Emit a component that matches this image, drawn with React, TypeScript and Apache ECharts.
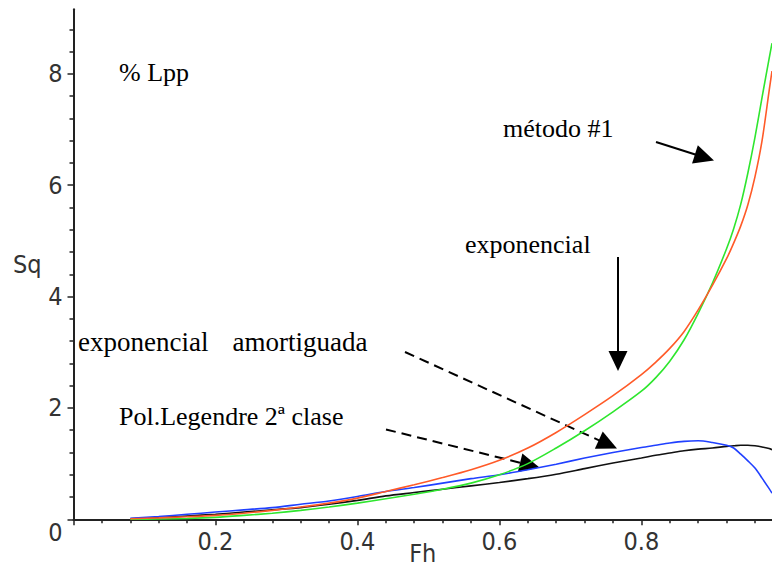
import React, { useEffect, useRef } from "react";
import * as echarts from "echarts";

// Froude number samples (Fh) shared by every curve
const fh = [
  0.08, 0.12, 0.16, 0.2, 0.24, 0.28, 0.32, 0.36, 0.4, 0.44, 0.48, 0.52, 0.56,
  0.6, 0.64, 0.68, 0.72, 0.76, 0.8, 0.82, 0.84, 0.86, 0.88, 0.9, 0.92, 0.93,
  0.94, 0.95, 0.96, 0.97, 0.98, 0.984,
];

// Squat (% Lpp) for each method
const exponencial = [
  0.01, 0.025, 0.045, 0.07, 0.11, 0.16, 0.22, 0.29, 0.38, 0.5, 0.62, 0.75,
  0.89, 1.06, 1.28, 1.56, 1.88, 2.22, 2.6, 2.82, 3.07, 3.37, 3.76, 4.2, 4.68,
  4.96, 5.27, 5.65, 6.15, 6.8, 7.7, 8.05,
];
const metodo1 = [
  0.0, 0.005, 0.015, 0.035, 0.07, 0.11, 0.16, 0.22, 0.29, 0.37, 0.45, 0.54,
  0.65, 0.8, 1.0, 1.28, 1.59, 1.93, 2.3, 2.54, 2.84, 3.22, 3.7, 4.24, 4.86,
  5.22, 5.66, 6.22, 6.86, 7.58, 8.28, 8.55,
];
const amortiguada = [
  0.02, 0.05, 0.09, 0.13, 0.17, 0.21, 0.27, 0.33, 0.41, 0.5, 0.57, 0.65, 0.73,
  0.8, 0.89, 0.99, 1.1, 1.2, 1.29, 1.33, 1.37, 1.4, 1.41, 1.38, 1.33, 1.28,
  1.17, 1.05, 0.92, 0.74, 0.55, 0.47,
];
const legendre = [
  0.01, 0.03, 0.06, 0.09, 0.13, 0.17, 0.21, 0.27, 0.34, 0.42, 0.48, 0.54, 0.6,
  0.66, 0.73, 0.81, 0.91, 1.01, 1.1, 1.15, 1.19, 1.23, 1.26, 1.28, 1.31, 1.32,
  1.33, 1.33, 1.32, 1.3, 1.27, 1.25,
];

const xTickLabels = [0.2, 0.4, 0.6, 0.8];
const xTicks = [0, 0.2, 0.4, 0.6, 0.8];
const yTickLabels = [0, 2, 4, 6, 8];

const AXIS_FONT = "'DejaVu Sans Condensed', 'Liberation Sans Narrow', 'DejaVu Sans', sans-serif";
const NOTE_FAMILY = "'Liberation Serif', 'Times New Roman', serif";
const NOTE_FONT = `26px ${NOTE_FAMILY}`;

function arrow(x1: number, y1: number, x2: number, y2: number, dashed: boolean) {
  const dx = x2 - x1;
  const dy = y2 - y1;
  const len = Math.hypot(dx, dy);
  const ux = dx / len;
  const uy = dy / len;
  const headLen = 20;
  const headHalf = 9.5;
  const bx = x2 - ux * headLen;
  const by = y2 - uy * headLen;
  const nx = -uy;
  const ny = ux;
  return [
    {
      type: "line",
      shape: { x1, y1, x2: bx + ux * 2, y2: by + uy * 2 },
      style: { stroke: "#000", lineWidth: 2, lineDash: dashed ? [10, 6] : null },
    },
    {
      type: "polygon",
      shape: {
        points: [
          [x2, y2],
          [bx + nx * headHalf, by + ny * headHalf],
          [bx - nx * headHalf, by - ny * headHalf],
        ],
      },
      style: { fill: "#000" },
    },
  ];
}

function note(text: string, x: number, y: number, rich?: Record<string, object>) {
  return {
    type: "text",
    x,
    y,
    style: {
      text,
      font: NOTE_FONT,
      fill: "#000",
      textAlign: "left",
      textVerticalAlign: "middle",
      rich,
    },
  };
}

function line(name: string, values: number[], color: string) {
  return {
    name,
    type: "line",
    data: fh.map((x, i) => [x, values[i]]),
    showSymbol: false,
    smooth: 0.3,
    lineStyle: { color, width: 1.6 },
    itemStyle: { color },
  };
}

export default function App() {
  const ref = useRef<HTMLDivElement>(null);

  useEffect(() => {
    if (!ref.current) return;
    const chart = echarts.init(ref.current, null, { renderer: "svg" });
    const word = { fontFamily: NOTE_FAMILY, fontSize: 27, color: "#000" };
    chart.setOption({
      animation: false,
      backgroundColor: "#fff",
      grid: {
        left: 73.5,
        right: 0,
        top: 9.3,
        bottom: 50.7,
        containLabel: false,
        outerBoundsMode: "none",
      },
      xAxis: {
        type: "value",
        min: 0,
        max: 0.984,
        interval: 0.2,
        name: "Fh",
        nameLocation: "middle",
        nameGap: 22,
        nameMoveOverlap: false,
        nameTextStyle: { fontFamily: AXIS_FONT, fontSize: 25, color: "#333" },
        axisLine: { show: true, lineStyle: { color: "#222", width: 2 } },
        axisTick: {
          show: true,
          length: 6,
          customValues: xTicks,
          lineStyle: { color: "#222", width: 1.5 },
        },
        minorTick: { show: true, splitNumber: 5, length: 4, lineStyle: { color: "#222", width: 1.5 } },
        axisLabel: {
          customValues: xTickLabels,
          margin: 10,
          fontFamily: AXIS_FONT,
          fontSize: 25,
          color: "#333",
          formatter: (v: number) => v.toFixed(1),
        },
        splitLine: { show: false },
      },
      yAxis: {
        type: "value",
        min: 0,
        max: 9.16,
        interval: 2,
        name: "Sq",
        nameLocation: "middle",
        nameRotate: 0,
        nameGap: 32,
        nameMoveOverlap: false,
        nameTextStyle: { fontFamily: AXIS_FONT, fontSize: 25, color: "#333" },
        axisLine: { show: true, lineStyle: { color: "#222", width: 2 } },
        axisTick: {
          show: true,
          length: 6,
          customValues: yTickLabels,
          lineStyle: { color: "#222", width: 1.5 },
        },
        minorTick: { show: true, splitNumber: 5, length: 4, lineStyle: { color: "#222", width: 1.5 } },
        axisLabel: {
          customValues: yTickLabels,
          margin: 11,
          fontFamily: AXIS_FONT,
          fontSize: 25,
          color: "#333",
          formatter: (v: number) => (v === 0 ? "{z|0}" : String(v)),
          rich: { z: { fontFamily: AXIS_FONT, fontSize: 25, color: "#333", padding: [26, 0, 0, 0] } },
        },
        splitLine: { show: false },
      },
      series: [
        line("Pol.Legendre 2ª clase", legendre, "#111111"),
        line("exponencial amortiguada", amortiguada, "#2040ff"),
        line("método #1", metodo1, "#2ee62e"),
        line("exponencial", exponencial, "#ff5a28"),
      ],
      graphic: [
        note("% Lpp", 119, 72),
        note("método #1", 503, 128.5),
        note("exponencial", 465, 244),
        // two-word label with a widened word gap
        note("{w|exponencial}{gap| }{w|amortiguada}", 78, 342, {
          w: word,
          gap: { ...word, width: 24 },
        }),
        note("Pol.Legendre 2ª clase", 119, 416),
        ...arrow(656, 142, 714, 160.5, false),
        ...arrow(618, 257, 618, 371, false),
        ...arrow(405, 352, 617, 448.5, true),
        ...arrow(386, 429.5, 539.5, 467.5, true),
      ],
    });
    return () => chart.dispose();
  }, []);

  return (
    <div
      ref={ref}
      style={{ position: "fixed", left: 0, top: 0, width: 772, height: 570, background: "#fff" }}
    />
  );
}
